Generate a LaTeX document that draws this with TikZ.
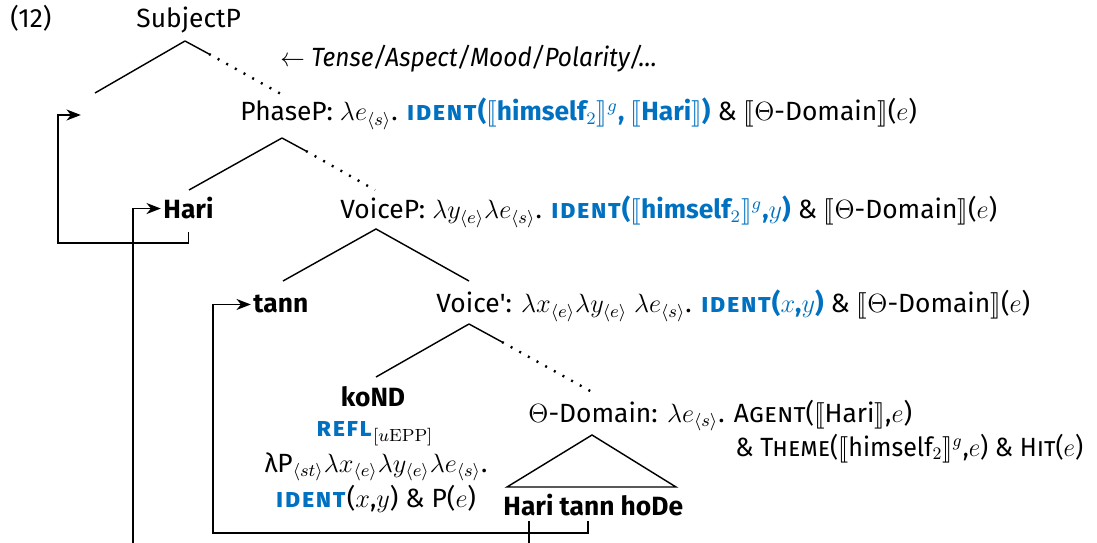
\documentclass[12pt,tikz,border=0pt]{standalone}
\usepackage[no-math]{fontspec}
\setmainfont{Fira Sans}
\usepackage{stmaryrd}
\usetikzlibrary{arrows.meta}

\begin{document}
\begin{tikzpicture}[x=0.455pt, y=-0.455pt,
    txt/.style={inner sep=0pt, anchor=base west},
    ctr/.style={inner sep=0pt, anchor=base},
    branch/.style={line width=0.65pt},
    dotbranch/.style={line width=1.1pt, dash pattern=on 0.9pt off 3.6pt},
    mv/.style={line width=0.65pt, shorten >=1pt, -{Stealth[length=6.5pt,width=5pt,inset=2pt]}}]
    \definecolor{identblue}{RGB}{0,112,192}
    \def\IDENT{\textcolor{identblue}{\bfseries\addfontfeatures{LetterSpace=5}\textsc{ident}}}
    \def\den#1{$\llbracket$#1$\rrbracket$}
    \def\blu#1{\textcolor{identblue}{\bfseries #1}}
    \useasboundingbox (0,0) rectangle (1097,543);
    \clip (0,0) rectangle (1097,543);
    % labels
    \node[txt] (ex) at (10,28) {(12)};
    \node[txt] (subjp) at (136,28) {SubjectP};
    \node[txt] (tam) at (280,67) {\scalebox{0.93}[1]{$\leftarrow$ \textit{Tense/Aspect/Mood/Polarity/\dots}}};
    \coordinate (spec) at (83,115);
    \node[txt] (phasep) at (240,121) {PhaseP: $\lambda e_{\langle s\rangle}$. \IDENT\blu{(\den{himself$_2$}$^g$, \den{Hari})} \& \den{$\Theta$-Domain}($e$)};
    \node[txt, font=\bfseries] (hari) at (163,219) {Hari};
    \node[txt] (voicep) at (340,219) {VoiceP: $\lambda y_{\langle e\rangle}\lambda e_{\langle s\rangle}$. \IDENT\blu{(\den{himself$_2$}$^g$,$y$)} \& \den{$\Theta$-Domain}($e$)};
    \node[txt, font=\bfseries] (tann) at (253,313) {tann};
    \node[txt] (voicebar) at (436,313) {Voice\textquotesingle: $\lambda x_{\langle e\rangle}\lambda y_{\langle e\rangle}$ $\lambda e_{\langle s\rangle}$. \IDENT\blu{($x$,$y$)} \& \den{$\Theta$-Domain}($e$)};
    \node[ctr, font=\bfseries] (kond) at (373,406) {koND};
    \node[ctr] (refl) at (375,437) {\textcolor{identblue}{\bfseries\addfontfeatures{LetterSpace=5}\textsc{refl}}$_{[u\mathrm{EPP}]}$};
    \node[ctr] (lamp) at (376,472) {λP$_{\langle st\rangle}\lambda x_{\langle e\rangle}\lambda y_{\langle e\rangle}\lambda e_{\langle s\rangle}$.};
    \node[ctr] (identp) at (376,507) {\IDENT($x$,$y$) \& P($e$)};
    \node[txt] (theta) at (528,422) {$\Theta$-Domain: $\lambda e_{\langle s\rangle}$. \textsc{Agent}(\den{Hari},$e$)};
    \node[txt] (theta2) at (735,456) {\scalebox{0.95}[1]{\& \textsc{Theme}(\den{himself$_2$}$^g$,$e$) \& \textsc{Hit}($e$)}};
    \node[txt, font=\bfseries] (hth) at (503,515) {Hari tann hoDe};
    \coordinate (hari-low) at (529,521);
    \coordinate (tann-low) at (588,521);
    % tree
    \coordinate (s-top) at (185,41);
    \draw[branch] (s-top) -- (95,93);
    \draw[branch] (s-top) -- (209,54);
    \draw[dotbranch] (209,54) -- (281,94);
    \coordinate (p-top) at (282,138);
    \draw[branch] (p-top) -- (189,190);
    \draw[branch] (p-top) -- (306,151);
    \draw[dotbranch] (306,151) -- (375,190);
    \coordinate (v-top) at (376,229);
    \draw[branch] (283,281) -- (v-top) -- (469,281);
    \coordinate (vb-top) at (469,324);
    \draw[branch] (vb-top) -- (376,377);
    \draw[branch] (vb-top) -- (502,342);
    \draw[dotbranch] (502,342) -- (592,392);
    \coordinate (t-top) at (592,435);
    \draw[branch] (t-top) -- (507,487) -- (676,487) -- cycle;
    % movement
    \draw[mv] ([yshift=-5.5pt]hari.south) -- ++(0,11) -| (58,115) -- (spec);
    \draw[mv] (hari-low) -- ++(0,60) -| ([xshift=-13.65pt]hari.west) -- (hari.west);
    \draw[mv] (tann-low) -- ++(0,12) -| ([xshift=-18.2pt]tann.west) -- (tann.west);
\end{tikzpicture}
\end{document}
